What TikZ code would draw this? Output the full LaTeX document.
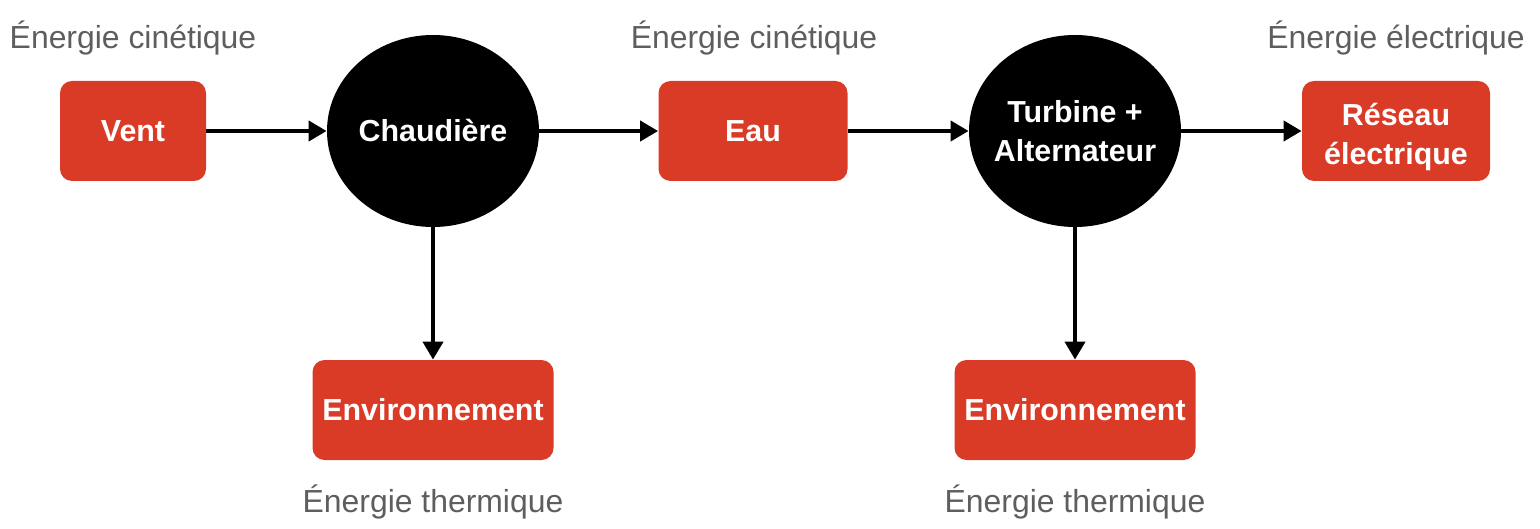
\documentclass[tikz,border=0pt]{standalone}
\usepackage{fontspec}
\setmainfont{Liberation Sans}
\usepackage{tikz}
\usetikzlibrary{arrows.meta,shapes.geometric}

\definecolor{boxred}{HTML}{DA3B27}
\definecolor{labelgrey}{HTML}{5E5E5E}

\begin{document}
\begin{tikzpicture}[
        x=0.5pt, y=-0.5pt,
        box/.style={
            rectangle,
            rounded corners=6pt,
            fill=boxred,
            text=white,
            align=center,
            font=\fontsize{15.2}{19.5}\selectfont\bfseries,
            minimum height=50pt,
            inner sep=0pt
        },
        conv/.style={
            ellipse,
            fill=black,
            text=white,
            align=center,
            font=\fontsize{15.2}{19.5}\selectfont\bfseries,
            minimum width=106pt,
            minimum height=96pt,
            inner xsep=-30pt,
            inner ysep=0pt
        },
        energy/.style={
            text=labelgrey,
            font=\fontsize{15.95}{19}\selectfont,
            inner sep=0pt
        },
        flow/.style={
            -{Triangle[length=9pt,width=10pt]},
            line width=2pt
        }
    ]

        \useasboundingbox (0,0) rectangle (1540,529);

        % main chain
        \node[box, minimum width=73pt] (vent) at (133,131) {Vent};
        \node[conv] (chaudiere) at (433,131) {Chaudière};
        \node[box, minimum width=94.5pt] (eau) at (753,131) {Eau};
        \node[conv] (turbine) at (1075,131) {Turbine +\\Alternateur};
        \node[box, minimum width=94pt] (reseau) at (1396,131) {\rule{0pt}{17.5pt}Réseau\\électrique};

        % losses
        \node[box, minimum width=120.5pt] (envA) at (433,410) {Environnement};
        \node[box, minimum width=120.5pt] (envB) at (1075,410) {Environnement};

        % energy forms
        \node[energy] (eVent) at (133,38) {Énergie cinétique};
        \node[energy] (eEau) at (754,38) {Énergie cinétique};
        \node[energy] (eReseau) at (1396,38) {Énergie électrique};
        \node[energy] (eEnvA) at (433,502) {Énergie thermique};
        \node[energy] (eEnvB) at (1075,502) {Énergie thermique};

        \draw[flow] (vent) -- (chaudiere);
        \draw[flow] (chaudiere) -- (eau);
        \draw[flow] (eau) -- (turbine);
        \draw[flow] (turbine) -- (reseau);
        \draw[flow] (chaudiere) -- (envA);
        \draw[flow] (turbine) -- (envB);

    \end{tikzpicture}
\end{document}
